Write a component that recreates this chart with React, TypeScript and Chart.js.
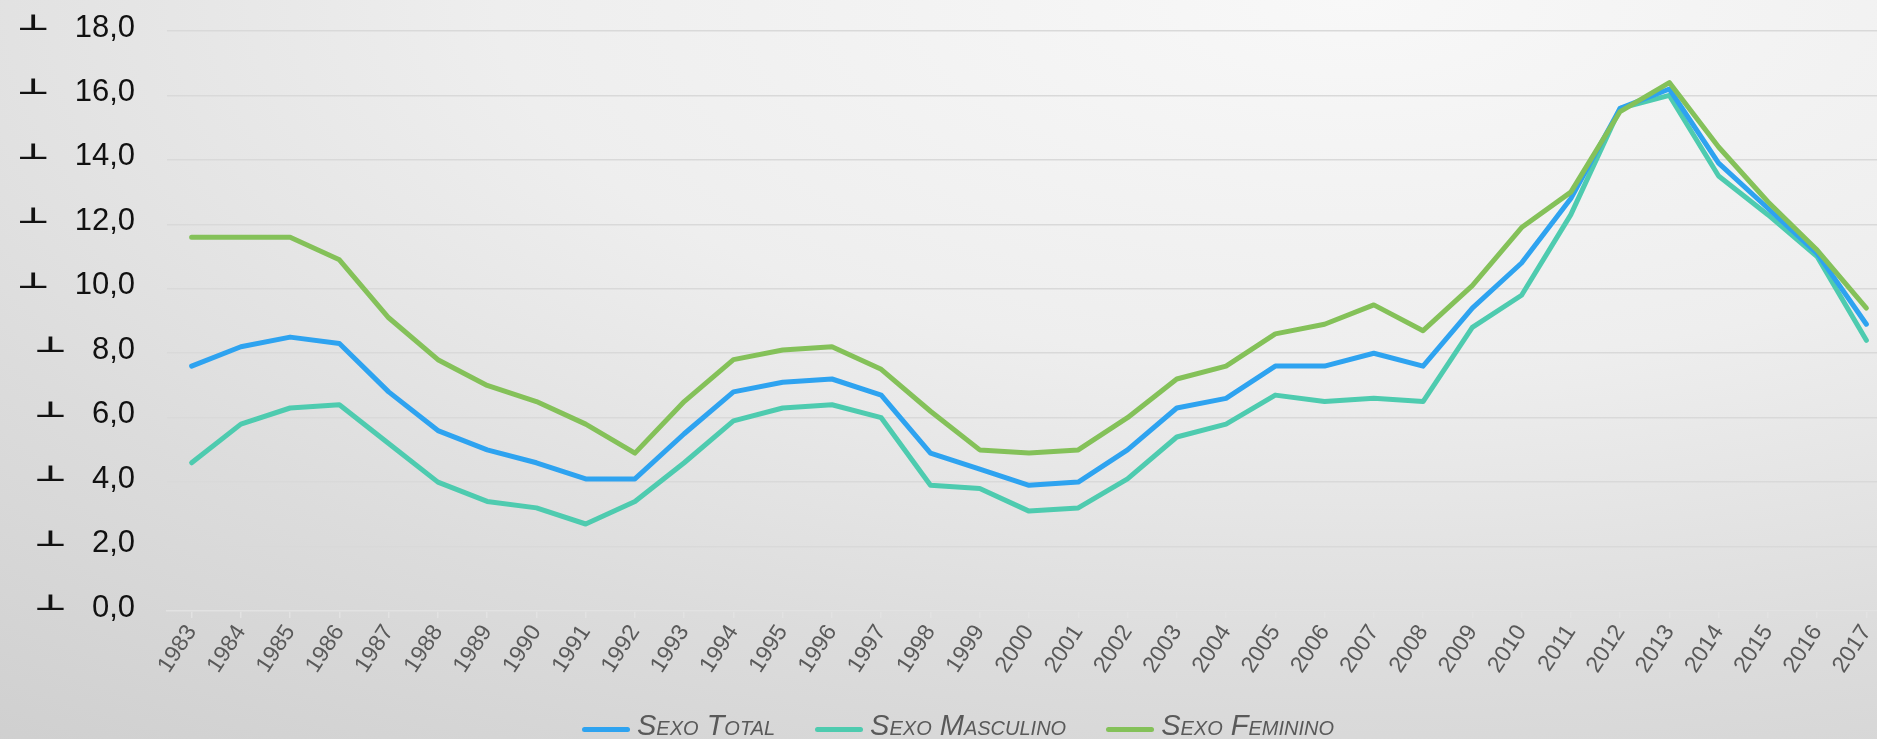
import React, { useEffect, useRef } from "react";
import { Chart, registerables } from "chart.js";

Chart.register(...registerables);

const years = [
  "1983", "1984", "1985", "1986", "1987", "1988", "1989", "1990", "1991", "1992",
  "1993", "1994", "1995", "1996", "1997", "1998", "1999", "2000", "2001", "2002",
  "2003", "2004", "2005", "2006", "2007", "2008", "2009", "2010", "2011", "2012",
  "2013", "2014", "2015", "2016", "2017",
];

const sexoTotal = [
  7.6, 8.2, 8.5, 8.3, 6.8, 5.6, 5.0, 4.6, 4.1, 4.1,
  5.5, 6.8, 7.1, 7.2, 6.7, 4.9, 4.4, 3.9, 4.0, 5.0,
  6.3, 6.6, 7.6, 7.6, 8.0, 7.6, 9.4, 10.8, 12.8, 15.6,
  16.2, 13.9, 12.5, 11.1, 8.9,
];

const sexoMasculino = [
  4.6, 5.8, 6.3, 6.4, 5.2, 4.0, 3.4, 3.2, 2.7, 3.4,
  4.6, 5.9, 6.3, 6.4, 6.0, 3.9, 3.8, 3.1, 3.2, 4.1,
  5.4, 5.8, 6.7, 6.5, 6.6, 6.5, 8.8, 9.8, 12.3, 15.6,
  16.0, 13.5, 12.3, 11.0, 8.4,
];

const sexoFeminino = [
  11.6, 11.6, 11.6, 10.9, 9.1, 7.8, 7.0, 6.5, 5.8, 4.9,
  6.5, 7.8, 8.1, 8.2, 7.5, 6.2, 5.0, 4.9, 5.0, 6.0,
  7.2, 7.6, 8.6, 8.9, 9.5, 8.7, 10.1, 11.9, 13.0, 15.5,
  16.4, 14.4, 12.7, 11.2, 9.4,
];

const seriesNames = ["Sexo Total", "Sexo Masculino", "Sexo Feminino"];
const seriesColors = ["#2EA3F0", "#4ECBAF", "#84C159"];

const yMin = 0;
const yMax = 18;
const yStep = 2;

const numFont = "'Liberation Sans', Arial, sans-serif";
const fmt = (v: number) => v.toFixed(1).replace(".", ",");

const upTackPlugin = {
  id: "upTack",
  afterDraw(chart: any) {
    const s = chart.scales.y;
    const ctx = chart.ctx as CanvasRenderingContext2D;
    ctx.save();
    ctx.fillStyle = "#111111";
    s.ticks.forEach((t: any, i: number) => {
      const y = s.getPixelForTick(i);
      ctx.font = `31px ${numFont}`;
      const w = ctx.measureText(fmt(t.value)).width;
      const xr = 135 - w - 27;
      ctx.font = "bold 22px 'DejaVu Sans'";
      const m = ctx.measureText("\u22A5");
      const inkW = m.actualBoundingBoxLeft + m.actualBoundingBoxRight;
      const sx = 29 / inkW;
      ctx.save();
      ctx.translate(xr, y - 1 - m.actualBoundingBoxDescent);
      ctx.scale(sx, 1);
      ctx.textAlign = "left";
      ctx.textBaseline = "alphabetic";
      ctx.fillText("\u22A5", -m.actualBoundingBoxRight, 0);
      ctx.restore();
    });
    ctx.restore();
  },
};

export default function App() {
  const ref = useRef<HTMLCanvasElement | null>(null);

  useEffect(() => {
    document.body.style.margin = "0";
    document.body.style.overflow = "hidden";
    const canvas = ref.current;
    if (!canvas) return;
    const data = [sexoTotal, sexoMasculino, sexoFeminino];
    const orders = [1, 2, 0];
    const chart = new Chart(canvas, {
      type: "line",
      data: {
        labels: years,
        datasets: data.map((d, i) => ({
          label: seriesNames[i],
          data: d,
          borderColor: seriesColors[i],
          backgroundColor: seriesColors[i],
          borderWidth: 5,
          pointRadius: 0,
          tension: 0,
          borderCapStyle: "round" as const,
          borderJoinStyle: "round" as const,
          fill: false,
          order: orders[i],
        })),
      },
      options: {
        responsive: false,
        animation: false,
        layout: { padding: { top: 31, right: 3, left: 0, bottom: 0 } },
        plugins: {
          legend: { display: false },
          tooltip: { enabled: false },
        },
        scales: {
          x: {
            type: "category",
            offset: true,
            grid: {
              display: true,
              drawOnChartArea: false,
              drawTicks: true,
              tickLength: 7,
              color: "#e2e2e2",
              lineWidth: 1.5,
            },
            border: { display: true, color: "#e2e2e2", width: 1.5 },
            ticks: {
              autoSkip: false,
              minRotation: 57,
              maxRotation: 57,
              padding: 2,
              color: "#595959",
              font: { family: numFont, size: 23 },
            },
            afterFit: (sc: any) => {
              sc.height = 128;
            },
          },
          y: {
            min: yMin,
            max: yMax,
            ticks: {
              stepSize: yStep,
              padding: 32,
              labelOffset: -3,
              color: "#111111",
              font: { family: numFont, size: 31 },
              callback: (v: any) => fmt(Number(v)),
            },
            grid: { color: "#d9d9d9", lineWidth: 1.5, drawTicks: false },
            border: { display: false },
            afterFit: (sc: any) => {
              sc.width = 167;
              sc.paddingTop = 0;
              sc.paddingBottom = 0;
            },
          },
        },
      },
      plugins: [upTackPlugin],
    } as any);
    return () => chart.destroy();
  }, []);

  return (
    <div
      style={{
        position: "fixed",
        left: 0,
        top: 0,
        width: 1877,
        height: 739,
        overflow: "hidden",
        background:
          "radial-gradient(ellipse 130% 140% at 72% 0%, #f8f8f8 0%, #eeeeee 35%, #dcdcdc 65%, #cbcbcb 100%)",
      }}
    >
      <canvas
        ref={ref}
        width={1894}
        height={739}
        style={{ position: "absolute", left: 0, top: 0, display: "block" }}
      />
      <div
        style={{
          position: "absolute",
          left: 582,
          top: 711,
          display: "flex",
          alignItems: "flex-start",
          whiteSpace: "nowrap",
        }}
      >
        {seriesNames.map((n, i) => (
          <div
            key={n}
            style={{ display: "flex", alignItems: "flex-start", marginRight: 40 }}
          >
            <span
              style={{
                display: "inline-block",
                width: 48,
                height: 5,
                borderRadius: 3,
                background: seriesColors[i],
                marginTop: 16,
                marginRight: 7,
              }}
            />
            <span
              style={{
                font: "italic small-caps 29px/29px 'Liberation Sans', Arial, sans-serif",
                color: "#595959",
              }}
            >
              {n}
            </span>
          </div>
        ))}
      </div>
    </div>
  );
}
